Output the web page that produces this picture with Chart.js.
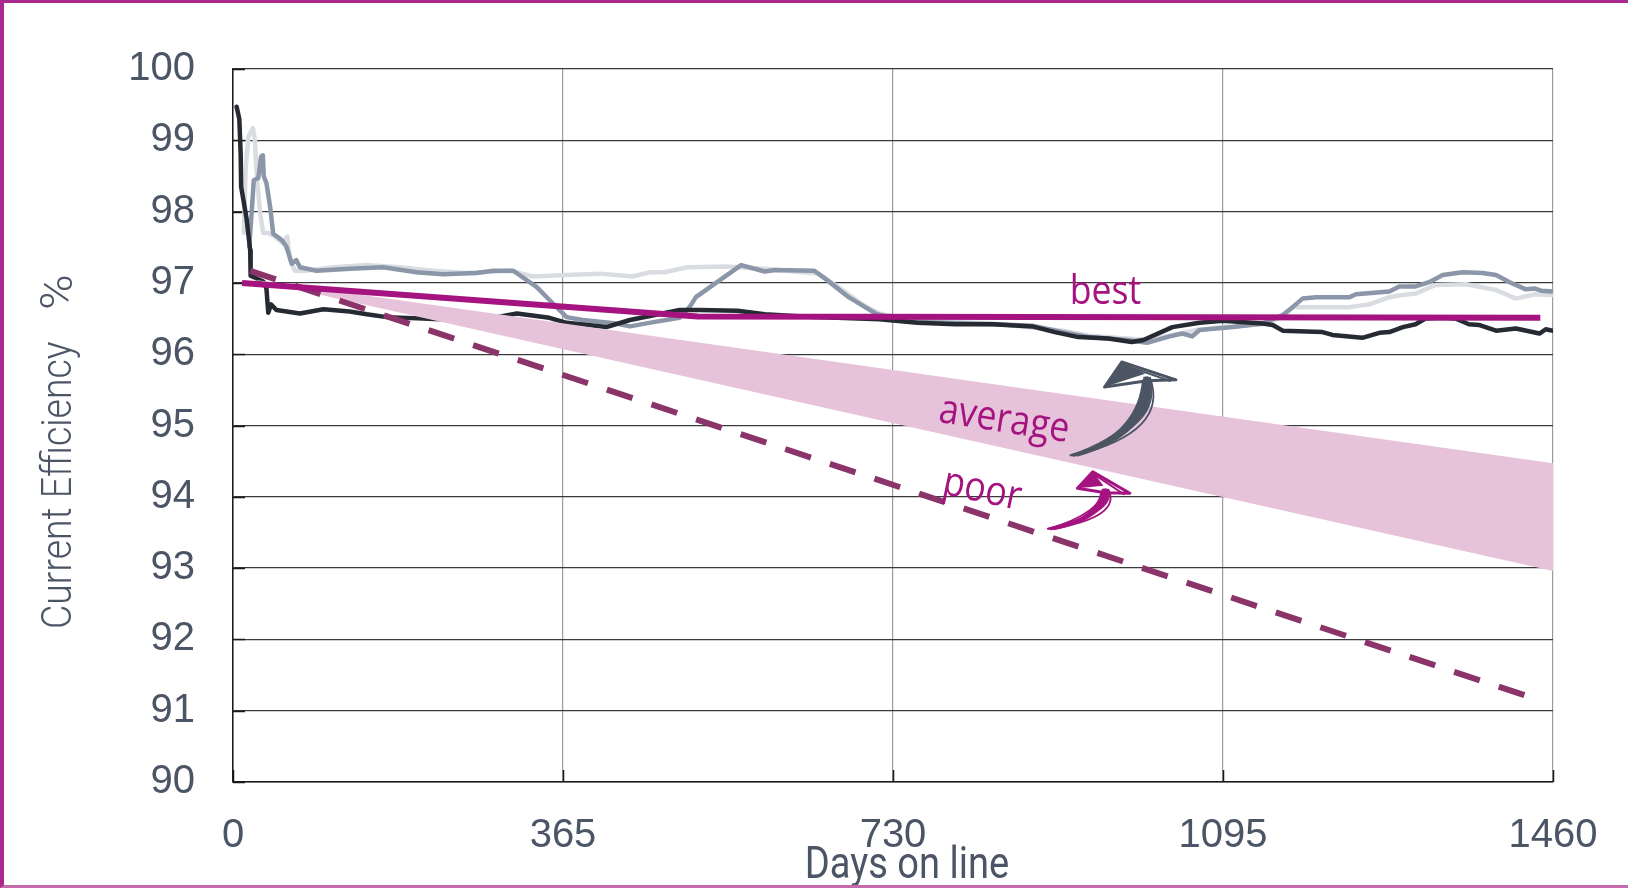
<!DOCTYPE html>
<html>
<head>
<meta charset="utf-8">
<title>Current Efficiency vs Days on line</title>
<script src="https://cdn.jsdelivr.net/npm/chart.js@4.4.1/dist/chart.umd.min.js"></script>
<style>
  html, body { margin: 0; padding: 0; background: #fff; }
  #wrap { position: relative; width: 1628px; height: 888px; overflow: hidden; }
  #frame {
    position: absolute; left: 0; top: 0; width: 1628px; height: 888px; box-sizing: border-box;
    border-left: 4px solid #a92a8c; border-top: 3px solid #a92a8c; border-bottom: 3px solid #c56aab;
    pointer-events: none;
  }
  canvas { display: block; }
</style>
</head>
<body>
<div id="wrap">
  <canvas id="chart" width="1628" height="888"></canvas>
  <div id="frame"></div>
</div>
<script>
// Axis ticks
const xTickValues = [0, 365, 730, 1095, 1460];
const yMin = 90;
const yMax = 100;

const darkDays = [4, 7, 8.5, 9, 15, 19, 19.5, 33.5, 37, 39, 42, 48, 74, 100, 129, 148, 170, 230, 284, 314, 350, 369, 413, 439, 494, 516, 558, 588, 630, 715, 757, 799, 841, 884, 909, 935, 968, 994, 1007, 1039, 1069, 1095, 1139, 1150, 1161, 1205, 1216, 1249, 1268, 1279, 1294, 1308, 1319, 1338, 1352, 1367, 1378, 1397, 1419, 1445, 1452, 1460];
const darkValues = [99.47, 99.3, 98.8, 98.35, 97.9, 97.46, 97.1, 97.02, 96.92, 96.58, 96.7, 96.62, 96.57, 96.63, 96.6, 96.56, 96.52, 96.49, 96.5, 96.57, 96.51, 96.44, 96.38, 96.48, 96.62, 96.62, 96.61, 96.56, 96.53, 96.49, 96.44, 96.42, 96.42, 96.39, 96.31, 96.24, 96.22, 96.17, 96.2, 96.38, 96.44, 96.47, 96.43, 96.41, 96.33, 96.31, 96.27, 96.23, 96.3, 96.31, 96.38, 96.42, 96.5, 96.51, 96.5, 96.42, 96.41, 96.33, 96.36, 96.29, 96.35, 96.33];

const midDays = [18, 20.6, 23, 28, 31, 33, 34, 37, 41, 44.5, 54, 59, 65, 70, 74, 92.5, 129, 166, 203, 232, 269, 288, 310, 336, 350, 369, 387, 424, 439, 465, 494, 505, 512, 533, 562, 588, 600, 643, 655, 681, 711, 732, 757, 841, 884, 918, 947, 989, 1011, 1036, 1050, 1061, 1069, 1106, 1139, 1161, 1172, 1183, 1198, 1235, 1242, 1279, 1290, 1308, 1323, 1338, 1360, 1382, 1397, 1412, 1430, 1440, 1447, 1460];
const midValues = [97.51, 97.98, 98.44, 98.47, 98.77, 98.79, 98.5, 98.4, 98.07, 97.69, 97.6, 97.51, 97.27, 97.32, 97.22, 97.17, 97.2, 97.22, 97.15, 97.12, 97.14, 97.17, 97.17, 96.94, 96.76, 96.52, 96.48, 96.43, 96.39, 96.45, 96.51, 96.66, 96.8, 96.99, 97.25, 97.16, 97.18, 97.17, 97.06, 96.8, 96.57, 96.49, 96.45, 96.42, 96.4, 96.31, 96.24, 96.2, 96.16, 96.25, 96.29, 96.25, 96.34, 96.38, 96.43, 96.55, 96.66, 96.78, 96.8, 96.8, 96.84, 96.88, 96.95, 96.95, 97.01, 97.11, 97.15, 97.14, 97.11, 97.01, 96.91, 96.92, 96.89, 96.88];

const lightDays = [12, 14, 17, 22, 24, 26, 30, 33.5, 39, 46, 56, 60, 63, 68.5, 80, 111, 148, 185, 222, 258, 306, 332, 369, 406, 442, 461, 477, 503, 545, 588, 630, 647, 672, 697, 715, 740, 757, 841, 918, 947, 989, 1011, 1045, 1065, 1095, 1139, 1161, 1172, 1235, 1257, 1279, 1293, 1308, 1330, 1364, 1397, 1419, 1440, 1460];
const lightValues = [97.7, 98.6, 99.05, 99.17, 99.03, 98.56, 97.98, 97.7, 97.7, 97.65, 97.55, 97.65, 97.32, 97.17, 97.17, 97.22, 97.25, 97.22, 97.17, 97.14, 97.17, 97.09, 97.11, 97.13, 97.09, 97.15, 97.15, 97.22, 97.23, 97.2, 97.15, 97.13, 96.92, 96.69, 96.57, 96.5, 96.47, 96.43, 96.33, 96.26, 96.22, 96.2, 96.28, 96.34, 96.38, 96.42, 96.52, 96.66, 96.66, 96.7, 96.8, 96.83, 96.85, 96.97, 96.98, 96.9, 96.78, 96.84, 96.83];

// Trend lines
const bestDays = [10, 514, 1446];
const bestValues = [97.0, 96.53, 96.51];
const poorDays = [19, 1442];
const poorValues = [97.17, 91.16];
const averageDays = [20, 1460];
const averageUpper = [97.05, 94.47];
const averageLower = [97.05, 92.96];

// Annotations (data coordinates)
const labelTexts = ['best', 'average', 'poor'];
const labelDays = [965, 851, 826];
const labelValues = [96.70, 94.91, 93.93];
const labelAngles = [0, 9, 12];

const arrowTail = [[934, 94.61], [909, 93.58]];
const arrowBend = [[1025, 94.94], [972, 93.75]];
const arrowEnd = [[1011, 95.67], [965, 94.10]];
const arrowTip = [[983, 95.89], [951, 94.35]];
const arrowLeftBarb = [[964, 95.54], [934, 94.12]];
const arrowRightBarb = [[1043, 95.64], [992, 94.05]];
const arrowColors = ['#4b5563', '#a4137f'];

const TEXT_COLOR = '#4b5565';
const MAGENTA = '#a4137f';

function toPoints(days, values) {
    return days.map((d, i) => ({ x: d, y: values[i] }));
}

function lineSet(label, days, values, color, width, order, extra) {
    return Object.assign({
        label: label,
        data: toPoints(days, values),
        borderColor: color,
        borderWidth: width,
        pointRadius: 0,
        tension: 0,
        fill: false,
        borderJoinStyle: 'round',
        borderCapStyle: 'round',
        order: order
    }, extra || {});
}

// Small black tick marks inside the plot, like the original
const innerTicks = {
    id: 'innerTicks',
    beforeDatasetsDraw(chart) {
        const { ctx, chartArea, scales } = chart;
        ctx.save();
        ctx.strokeStyle = '#1a1a1a';
        ctx.lineWidth = 1.5;
        ctx.beginPath();
        for (let v = yMin; v <= yMax; v++) {
            const y = Math.round(scales.y.getPixelForValue(v)) + 0.5;
            ctx.moveTo(chartArea.left, y);
            ctx.lineTo(chartArea.left + 12, y);
        }
        xTickValues.forEach(v => {
            const x = Math.round(scales.x.getPixelForValue(v)) + 0.5;
            ctx.moveTo(x, chartArea.bottom);
            ctx.lineTo(x, chartArea.bottom - 12);
        });
        ctx.stroke();
        ctx.restore();
    }
};

// Labels, sketchy arrows and axis titles
const annotations = {
    id: 'annotations',
    afterDatasetsDraw(chart) {
        const { ctx, scales } = chart;
        const px = p => [scales.x.getPixelForValue(p[0]), scales.y.getPixelForValue(p[1])];

        // arrows: a filled crescent shaft plus a few loose strokes and an open head
        arrowTail.forEach((tail, i) => {
            const t = px(tail), b = px(arrowBend[i]), e = px(arrowEnd[i]);
            const tip = px(arrowTip[i]), lb = px(arrowLeftBarb[i]), rb = px(arrowRightBarb[i]);
            const bulge = i === 0 ? 22 : 15;
            ctx.save();
            ctx.strokeStyle = arrowColors[i];
            ctx.fillStyle = arrowColors[i];
            ctx.lineCap = 'round';
            ctx.lineJoin = 'round';

            ctx.beginPath();
            ctx.moveTo(t[0], t[1]);
            ctx.quadraticCurveTo(b[0], b[1], e[0] + 3, e[1]);
            ctx.lineTo(e[0] - 5, e[1] + 2);
            ctx.quadraticCurveTo(b[0] - bulge, b[1] + 2, t[0], t[1]);
            ctx.closePath();
            ctx.fill();

            const offsets = [[0, 0, 3], [6, -3, 2], [-6, 4, 2.5], [10, 2, 1.8], [-10, -2, 1.8]];
            offsets.forEach(o => {
                ctx.lineWidth = o[2];
                ctx.beginPath();
                ctx.moveTo(t[0] - 4 + o[1], t[1] + 2);
                ctx.quadraticCurveTo(b[0] + o[0], b[1] + o[1], e[0] + o[0] * 0.3, e[1]);
                ctx.stroke();
            });

            ctx.lineWidth = 3;
            ctx.beginPath();
            ctx.moveTo(lb[0], lb[1]);
            ctx.lineTo(tip[0], tip[1]);
            ctx.lineTo(rb[0], rb[1]);
            ctx.lineTo(e[0], e[1] + 3);
            ctx.lineTo(lb[0], lb[1]);
            ctx.stroke();
            ctx.lineWidth = 2;
            ctx.beginPath();
            ctx.moveTo(lb[0] + 3, lb[1] - 2);
            ctx.lineTo(tip[0] + 2, tip[1] + 3);
            ctx.lineTo(rb[0] - 6, rb[1] + 1);
            ctx.stroke();
            ctx.beginPath();
            ctx.moveTo(lb[0], lb[1]);
            ctx.lineTo(tip[0], tip[1]);
            ctx.lineTo(e[0] - 2, e[1] - 4);
            ctx.closePath();
            ctx.fill();
            ctx.restore();
        });

        // curve labels
        labelTexts.forEach((txt, i) => {
            const p = px([labelDays[i], labelValues[i]]);
            ctx.save();
            ctx.translate(p[0], p[1]);
            ctx.rotate(labelAngles[i] * Math.PI / 180);
            ctx.scale(0.87, 1);
            ctx.font = '41px "Open Sans", "Noto Sans", sans-serif';
            ctx.fillStyle = MAGENTA;
            ctx.textAlign = 'center';
            ctx.textBaseline = 'alphabetic';
            ctx.fillText(txt, 0, 0);
            ctx.restore();
        });
    },
    afterDraw(chart) {
        const { ctx } = chart;
        ctx.save();
        ctx.fillStyle = TEXT_COLOR;
        ctx.textBaseline = 'alphabetic';
        // y axis title
        ctx.save();
        ctx.translate(71, 629);
        ctx.rotate(-Math.PI / 2);
        ctx.scale(0.89, 1);
        ctx.font = '300 42px Roboto, "Liberation Sans", sans-serif';
        ctx.textAlign = 'left';
        ctx.fillText('Current Efficiency', 0, 0);
        ctx.restore();
        ctx.save();
        ctx.translate(72, 310);
        ctx.rotate(-Math.PI / 2);
        ctx.scale(1.1, 1);
        ctx.font = '300 44px Roboto, "Liberation Sans", sans-serif';
        ctx.textAlign = 'left';
        ctx.fillText('%', 0, 0);
        ctx.restore();
        // x axis title
        ctx.save();
        ctx.translate(907, 878);
        ctx.scale(0.865, 1);
        ctx.font = '44px Roboto, "Liberation Sans", sans-serif';
        ctx.textAlign = 'center';
        ctx.fillText('Days on line', 0, 0);
        ctx.restore();
        ctx.restore();
    }
};

const datasets = [
    lineSet('best', bestDays, bestValues, MAGENTA, 6, 1, { borderCapStyle: 'butt' }),
    lineSet('poor', poorDays, poorValues, '#8b3469', 6, 2, { borderDash: [27, 20], borderCapStyle: 'butt' }),
    lineSet('average upper', averageDays, averageUpper, 'rgba(0,0,0,0)', 0, 3, { fill: '+1', backgroundColor: '#e6c3db' }),
    lineSet('average lower', averageDays, averageLower, 'rgba(0,0,0,0)', 0, 4),
    lineSet('cell A', darkDays, darkValues, '#262a33', 4.5, 5),
    lineSet('cell B', midDays, midValues, '#8b96a8', 4.5, 6),
    lineSet('cell C', lightDays, lightValues, '#d9dde2', 4.5, 7)
];

const tickFont = { family: '"Liberation Sans", Arial, sans-serif', size: 40 };

new Chart(document.getElementById('chart'), {
    type: 'line',
    data: { datasets: datasets },
    options: {
        responsive: false,
        animation: false,
        events: [],
        layout: { padding: { left: 0, right: 75, top: 69, bottom: 0 } },
        plugins: {
            legend: { display: false },
            tooltip: { enabled: false }
        },
        scales: {
            x: {
                type: 'linear',
                min: 0,
                max: 1460,
                afterBuildTicks: s => { s.ticks = xTickValues.map(v => ({ value: v })); },
                afterFit: s => { s.height = 106; },
                grid: { color: '#9c9c9c', lineWidth: 1.2, drawTicks: false },
                border: { color: '#1a1a1a', width: 1.5 },
                ticks: {
                    autoSkip: false,
                    maxRotation: 0,
                    padding: 30,
                    color: TEXT_COLOR,
                    font: tickFont,
                    callback: v => String(v)
                }
            },
            y: {
                min: yMin,
                max: yMax,
                afterFit: s => { s.width = 233; },
                grid: { color: '#3a3a3a', lineWidth: 1.2, drawTicks: false },
                border: { color: '#1a1a1a', width: 1.5 },
                ticks: {
                    stepSize: 1,
                    padding: 38,
                    color: TEXT_COLOR,
                    font: tickFont,
                    callback: v => String(v)
                }
            }
        }
    },
    plugins: [innerTicks, annotations]
});
</script>
</body>
</html>
